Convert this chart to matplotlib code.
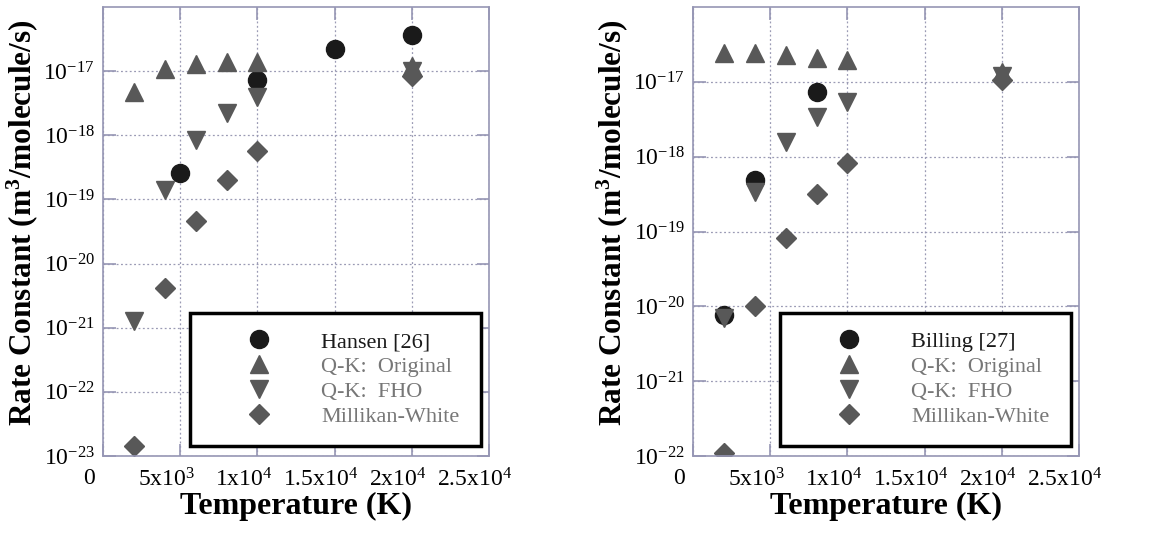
import numpy as np
import matplotlib
matplotlib.use("Agg")
import matplotlib.pyplot as plt
import matplotlib.transforms as mtransforms

# ======= Dane =======
T_QK = [2000, 4000, 6000, 8000, 10000, 20000]

# lewy panel: Hansen [26]
hansen_T = [5000, 10000, 15000, 20000]
hansen_k = [2.6e-19, 7.2e-18, 2.2e-17, 3.6e-17]
left_orig = [4.7e-18, 1.07e-17, 1.3e-17, 1.4e-17, 1.4e-17, 1.2e-17]
left_fho = [1.26e-21, 1.38e-19, 8.5e-19, 2.2e-18, 4.0e-18, 1.0e-17]
left_mw = [1.45e-23, 4.2e-21, 4.6e-20, 2.0e-19, 5.7e-19, 8.3e-18]

# prawy panel: Billing [27]
billing_T = [2000, 4000, 8000]
billing_k = [7.7e-21, 4.9e-19, 7.4e-18]
right_orig = [2.4e-17, 2.4e-17, 2.27e-17, 2.1e-17, 1.95e-17, 1.35e-17]
right_fho = [7.0e-21, 3.4e-19, 1.58e-18, 3.4e-18, 5.4e-18, 1.2e-17]
right_mw = [1.1e-22, 1.0e-20, 8.3e-20, 3.2e-19, 8.2e-19, 1.05e-17]

x_ticks = [0, 5000, 10000, 15000, 20000, 25000]
x_labels = ["0", "5x10$^{3}$", "1x10$^{4}$", "1.5x10$^{4}$", "2x10$^{4}$", "2.5x10$^{4}$"]

# ======= Styl =======
plt.rcParams["font.family"] = ["Liberation Serif", "DejaVu Serif"]
plt.rcParams["mathtext.fontset"] = "custom"
plt.rcParams["mathtext.rm"] = "Liberation Serif"
plt.rcParams["mathtext.it"] = "Liberation Serif:italic"
plt.rcParams["mathtext.bf"] = "Liberation Serif:bold"

FRAME = "#9696b4"
GRID = "#9a9ab4"
DARK = "#1a1a1a"
GREY = "#585858"
LEG_TXT = "#777777"
MS = 13

fig = plt.figure(figsize=(11.56, 5.46), dpi=100)
W, H = 1156, 546


def make_panel(left_px, ymin_exp, ref_T, ref_k, ref_name, orig, fho, mw):
    ax = fig.add_axes([left_px / W, 90 / H, 386 / W, 449 / H])
    ax.set_yscale("log")
    ax.plot(ref_T, ref_k, "o", color=DARK, ms=MS, mec=DARK, label=ref_name)
    ax.plot(T_QK, orig, "^", color=GREY, ms=MS, mec=GREY, label="Q-K:  Original")
    ax.plot(T_QK, fho, "v", color=GREY, ms=MS, mec=GREY, label="Q-K:  FHO")
    ax.plot(T_QK, mw, "D", color=GREY, ms=MS * 0.82, mec=GREY, label="Millikan-White")

    ax.set_xlim(0, 25000)
    ax.set_ylim(10.0 ** ymin_exp, 1e-16)
    ax.set_xticks(x_ticks)
    ax.set_xticklabels(x_labels)
    yt = [10.0 ** e for e in range(ymin_exp, -16)]
    ax.set_yticks(yt)
    ax.set_yticklabels(["10$^{%d}$" % e for e in range(ymin_exp, -16)])
    ax.yaxis.set_minor_locator(matplotlib.ticker.NullLocator())

    ax.grid(True, which="major", ls=(0, (1.5, 2.0)), color=GRID, lw=0.9)
    for s in ax.spines.values():
        s.set_color(FRAME)
        s.set_linewidth(1.2)
    ax.tick_params(axis="both", which="major", direction="in", length=9, width=1.2,
                   color=FRAME, top=True, right=True, labelsize=17)
    ax.tick_params(axis="x", pad=9)
    ax.tick_params(axis="y", pad=6)
    # etykiety osi x lekko przesuniete w lewo jak w oryginale
    off = mtransforms.ScaledTranslation(-14 / 100, 0, fig.dpi_scale_trans)
    for lab in ax.get_xticklabels():
        lab.set_transform(lab.get_transform() + off)

    ax.set_xlabel("Temperature (K)", fontsize=23, fontweight="bold", labelpad=0)
    ax.set_ylabel("Rate Constant (m$^{\\mathbf{3}}$/molecule/s)", fontsize=22.5,
                  fontweight="bold")
    ax.yaxis.set_label_coords(-0.162, 0.52)

    leg = ax.legend(loc="lower left", bbox_to_anchor=(0.225, 0.022, 0.754, 0.296),
                    mode="expand", fontsize=16, frameon=True, fancybox=False,
                    borderpad=0.85, handlelength=4.55, handletextpad=0.5,
                    labelspacing=0.2, borderaxespad=0, numpoints=1)
    fr = leg.get_frame()
    fr.set_edgecolor("black")
    fr.set_linewidth(2.5)
    fr.set_alpha(1)
    for i, t in enumerate(leg.get_texts()):
        t.set_color(DARK if i == 0 else LEG_TXT)
    return ax


make_panel(103, -23, hansen_T, hansen_k, "Hansen [26]", left_orig, left_fho, left_mw)
make_panel(693, -22, billing_T, billing_k, "Billing [27]", right_orig, right_fho, right_mw)

fig.savefig("out.png", dpi=100)
